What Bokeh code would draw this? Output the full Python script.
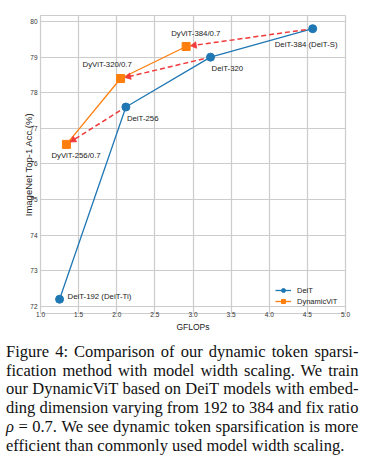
import math
from bokeh.plotting import figure
from bokeh.models import (ColumnDataSource, FixedTicker, Legend, LegendItem,
                          Div, Range1d, PrintfTickFormatter)
from bokeh.layouts import column
from bokeh.embed import file_html
from bokeh.resources import INLINE
from bokeh.core.properties import value

# ---------------- data ----------------
deit_gflops = [1.25, 2.12, 3.23, 4.57]
deit_acc = [72.2, 77.6, 79.0, 79.8]
deit_names = ["DeiT-192 (DeiT-Ti)", "DeiT-256", "DeiT-320", "DeiT-384 (DeiT-S)"]

dyvit_gflops = [1.34, 2.05, 2.91]
dyvit_acc = [76.55, 78.4, 79.3]
dyvit_names = ["DyViT-256/0.7", "DyViT-320/0.7", "DyViT-384/0.7"]

x_ticks = [1.0, 1.5, 2.0, 2.5, 3.0, 3.5, 4.0, 4.5, 5.0]
y_ticks = [72, 73, 74, 75, 76, 77, 78, 79, 80]

caption_lines = [
    "Figure 4: Comparison of our dynamic token sparsi-",
    "fication method with model width scaling. We train",
    "our DynamicViT based on DeiT models with embed-",
    "ding dimension varying from 192 to 384 and fix ratio",
    "<i>&rho;</i> = 0.7. We see dynamic token sparsification is more",
    "efficient than commonly used model width scaling.",
]

# ---------------- style ----------------
BLUE = "#1f77b4"
ORANGE = "#ff7f0e"
RED = "#f03a3a"
GRID = "#cccccc"
FONT = "Liberation Sans"
X_RANGE = (1.0, 5.0)
Y_RANGE = (71.80, 80.17)
W, H = 367, 340
BL, BR, BT, BB = 40, 22, 15, 27
FRAME_W = W - BL - BR
FRAME_H = H - BT - BB

p = figure(width=W, height=H, x_range=Range1d(*X_RANGE), y_range=Range1d(*Y_RANGE),
           output_backend="svg", toolbar_location=None,
           min_border_left=BL, min_border_right=BR, min_border_top=BT, min_border_bottom=BB,
           background_fill_color="white", border_fill_color="white")

p.outline_line_color = GRID
p.outline_line_width = 1.2
for g in (p.xgrid, p.ygrid):
    g.grid_line_color = GRID
    g.grid_line_width = 1.2

p.xaxis.ticker = FixedTicker(ticks=x_ticks)
p.xaxis.formatter = PrintfTickFormatter(format="%.1f")
p.yaxis.ticker = FixedTicker(ticks=y_ticks)
for ax in (p.xaxis, p.yaxis):
    ax.axis_line_color = None
    ax.major_tick_line_color = None
    ax.minor_tick_line_color = None
    ax.major_tick_out = 0
    ax.major_tick_in = 0
    ax.minor_tick_out = 0
    ax.minor_tick_in = 0
    ax.major_label_text_font = FONT
    ax.major_label_text_font_size = "6.5px"
    ax.major_label_text_color = "#333333"
    ax.axis_label_text_font = FONT
    ax.axis_label_text_font_style = "normal"
    ax.axis_label_text_color = "#222222"
p.xaxis.axis_label = "GFLOPs"
p.yaxis.axis_label = "ImageNet Top-1 Acc (%)"
p.xaxis.axis_label_text_font_size = "8.5px"
p.yaxis.axis_label_text_font_size = "9.5px"
p.xaxis.major_label_standoff = -2
p.xaxis.axis_label_standoff = 2
p.yaxis.major_label_standoff = 3
p.yaxis.axis_label_standoff = -7

# lines + markers
l1 = p.line(deit_gflops, deit_acc, line_color=BLUE, line_width=1.3)
s1 = p.scatter(deit_gflops, deit_acc, marker="circle", size=8, fill_color=BLUE, line_color=BLUE)
l2 = p.line(dyvit_gflops, dyvit_acc, line_color=ORANGE, line_width=1.3)
s2 = p.scatter(dyvit_gflops, dyvit_acc, marker="square", size=8, fill_color=ORANGE, line_color=ORANGE)

# dashed arrows from DeiT to DyViT of same width, shrunk in screen space
sx = FRAME_W / (X_RANGE[1] - X_RANGE[0])
sy = FRAME_H / (Y_RANGE[1] - Y_RANGE[0])
SHRINK_A, SHRINK_B, HEAD = 7.0, 6.0, 5.0
xs, ys, xe, ye, hx, hy, ha = [], [], [], [], [], [], []
for (x0, y0), (x1, y1) in zip(zip(deit_gflops[1:], deit_acc[1:]), zip(dyvit_gflops, dyvit_acc)):
    dx, dy = (x1 - x0) * sx, (y1 - y0) * sy
    L = math.hypot(dx, dy)
    ux, uy = dx / L, dy / L
    xs.append(x0 + ux * SHRINK_A / sx)
    ys.append(y0 + uy * SHRINK_A / sy)
    xe.append(x1 - ux * (SHRINK_B + HEAD * 0.7) / sx)
    ye.append(y1 - uy * (SHRINK_B + HEAD * 0.7) / sy)
    hx.append(x1 - ux * (SHRINK_B + HEAD * 0.45) / sx)
    hy.append(y1 - uy * (SHRINK_B + HEAD * 0.45) / sy)
    ha.append(math.atan2(uy, ux) - math.pi / 2)
arrow_src = ColumnDataSource(dict(xs=xs, ys=ys, xe=xe, ye=ye))
p.segment(x0="xs", y0="ys", x1="xe", y1="ye", source=arrow_src,
          line_color=RED, line_width=1.5, line_dash="5 3")
head_src = ColumnDataSource(dict(x=hx, y=hy, a=ha))
p.scatter(x="x", y="y", angle="a", source=head_src, marker="triangle", size=6.5,
          fill_color=RED, line_color=RED, line_width=0.8)

# point labels
deit_xo = [8, 1, 1, -38]
deit_yo = [-3, 11.5, 11.5, 16]
dyvit_xo = [-15, -38, -15]
dyvit_yo = [11, -14, -13]
lab_src = ColumnDataSource(dict(
    x=deit_gflops + dyvit_gflops, y=deit_acc + dyvit_acc, t=deit_names + dyvit_names,
    xo=deit_xo + dyvit_xo, yo=deit_yo + dyvit_yo))
p.text(x="x", y="y", text="t", x_offset="xo", y_offset="yo", source=lab_src,
       text_font=value(FONT), text_font_size="7.8px", text_baseline="middle",
       text_align="left", text_color="#222222")

legend = Legend(items=[LegendItem(label="DeiT", renderers=[l1, s1]),
                       LegendItem(label="DynamicViT", renderers=[l2, s2])],
                location=(233, 5), background_fill_alpha=0, border_line_alpha=0,
                label_text_font=FONT, label_text_font_size="7.5px", label_text_color="#222222",
                glyph_width=16, glyph_height=10, label_height=10, spacing=1, padding=2,
                margin=0, label_standoff=6)
p.add_layout(legend)

html_lines = []
for i, line in enumerate(caption_lines):
    last = "left" if i == len(caption_lines) - 1 else "justify"
    html_lines.append(f'<div style="text-align:justify;text-align-last:{last};'
                      f'white-space:nowrap;">{line}</div>')
cap = Div(text="".join(html_lines), width=355, margin=(3, 0, 0, 6),
          styles={"font-family": "'Liberation Serif', serif", "font-size": "16.5px",
                  "line-height": "18.7px", "color": "#111111"})

layout = column(p, cap)
open("out.html", "w").write(file_html(layout, INLINE))
